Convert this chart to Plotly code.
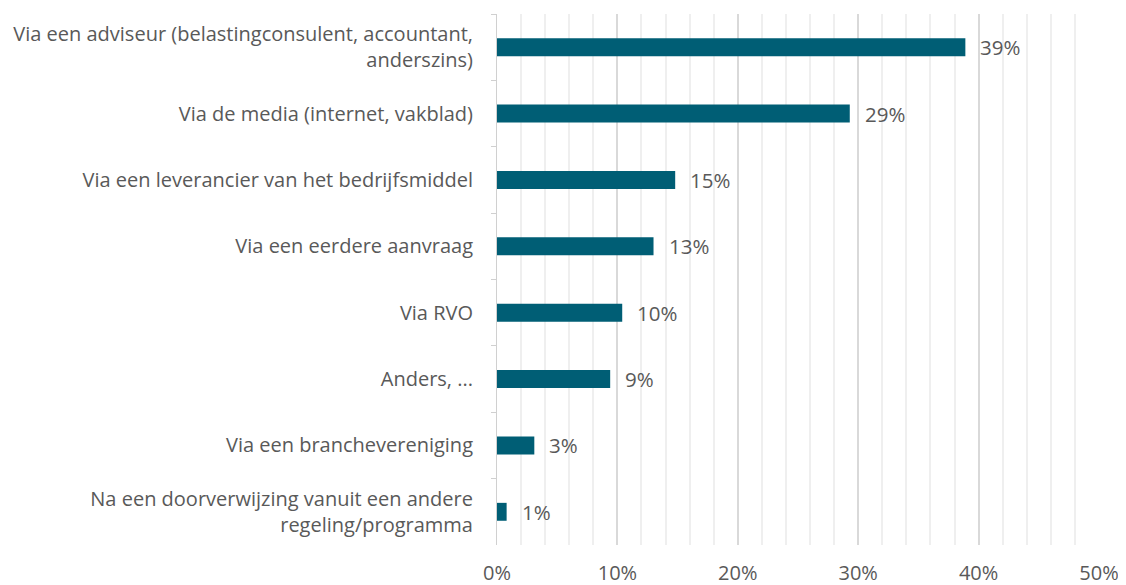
import plotly.graph_objects as go

categories = [
    "Via een adviseur (belastingconsulent, accountant,<br>anderszins)",
    "Via de media (internet, vakblad)",
    "Via een leverancier van het bedrijfsmiddel",
    "Via een eerdere aanvraag",
    "Via RVO",
    "Anders, ...",
    "Via een branchevereniging",
    "Na een doorverwijzing vanuit een andere<br>regeling/programma",
]
values = [38.9, 29.3, 14.8, 13.0, 10.4, 9.4, 3.1, 0.8]
labels = ["39%", "29%", "15%", "13%", "10%", "9%", "3%", "1%"]
x_ticks = [0, 10, 20, 30, 40, 50]
x_ticklabels = ["0%", "10%", "20%", "30%", "40%", "50%"]

FONT = "Open Sans"
TXT = "#595959"

fig = go.Figure()
fig.add_trace(go.Bar(
    y=categories, x=values, orientation="h",
    marker=dict(color="#005E75", line=dict(width=0)),
    width=0.27, hoverinfo="skip",
))
for c, v, t in zip(categories, values, labels):
    fig.add_annotation(x=v, y=c, text=t, showarrow=False, xanchor="left",
                       xshift=13, font=dict(family=FONT, size=20.5, color=TXT))

fig.update_layout(
    width=1118, height=577,
    margin=dict(l=489, r=27, t=6, b=40, autoexpand=False),
    paper_bgcolor="white", plot_bgcolor="white",
    showlegend=False,
    font=dict(family=FONT, size=20, color=TXT),
    xaxis=dict(
        range=[0, 50], tickvals=x_ticks, ticktext=x_ticklabels,
        showgrid=True, gridcolor="#d9d9d9", gridwidth=2,
        minor=dict(dtick=2, showgrid=True, gridcolor="#efefef", gridwidth=2),
        zeroline=False, showline=False, ticks="",
        ticklabelstandoff=14, fixedrange=True, automargin=False,
        tickfont=dict(family=FONT, size=20, color=TXT),
    ),
    yaxis=dict(
        autorange="reversed", type="category",
        showline=True, linecolor="#d0d0d0", linewidth=1,
        ticks="outside", ticklen=5, tickcolor="#d0d0d0", tickson="boundaries",
        showgrid=False, ticklabelstandoff=19, automargin=False,
        tickfont=dict(family=FONT, size=20, color=TXT),
    ),
)
fig.write_html("out.html")
